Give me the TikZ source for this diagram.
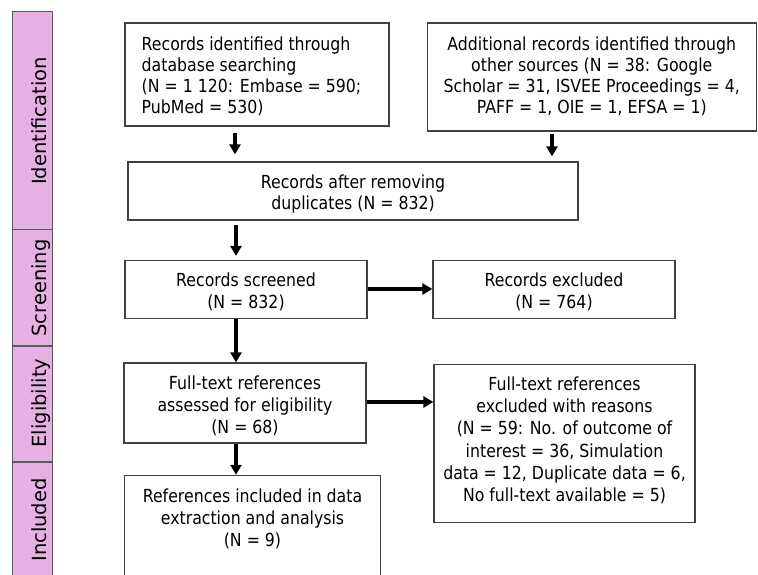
\documentclass[tikz,border=0pt]{standalone}
\usepackage{fontspec}
\setmainfont{DejaVu Sans}[FakeStretch=0.875]
\newfontfamily\sidefont{DejaVu Sans}
\usetikzlibrary{arrows.meta}
\definecolor{phase}{HTML}{E6B0E3}
\definecolor{edgegray}{HTML}{404040}
\definecolor{bandgray}{HTML}{5A5A5A}
% width, height, first baseline, text (centred, top aligned)
\newcommand{\cbox}[4]{\begin{minipage}[c][#2][t]{#1}\centering\rule{0pt}{#3}#4\end{minipage}}
% width, height, first baseline, left pad, text (left aligned, top aligned)
\newcommand{\lbox}[5]{\begin{minipage}[c][#2][t]{#1}\raggedright\leftskip=#4\rule{0pt}{#3}#5\end{minipage}}
\begin{document}
\begin{tikzpicture}[x=1pt,y=-1pt,
  box/.style={draw=edgegray,line width=1.2pt,rectangle,inner sep=0pt,
    font=\fontsize{18}{21.7}\selectfont},
  topbox/.style={box,font=\fontsize{18}{21.1}\selectfont},
  boxtext/.style={rectangle,inner sep=0pt,font=\fontsize{18}{21.9}\selectfont},
  boxline/.style={draw=edgegray,line width=1.2pt},
  band/.style={draw=bandgray,fill=phase,line width=1.2pt},
  bandlabel/.style={rotate=90,anchor=base,inner sep=0pt,
    font=\sidefont\fontsize{19.5}{22}\selectfont},
  arr/.style={line width=3.2pt,-{Triangle[length=10pt,width=11pt]}}]
\useasboundingbox (0,0) rectangle (758,575);

% phase side bar
\draw[band] (12.7,11.7) rectangle (52.7,229.5);
\draw[band] (12.7,229.5) rectangle (52.7,346);
\draw[band] (12.7,346) rectangle (52.7,462);
\draw[band] (12.7,462) rectangle (52.7,580);
\node[bandlabel] (lid) at (46.5,121) {Identification};
\node[bandlabel] (lsc) at (46.5,288) {Screening};
\node[bandlabel] (lel) at (46.5,403) {Eligibility};
\node[bandlabel] (lin) at (46.5,520) {Included};

% boxes
\node[topbox] (b1) at (257,74.5)
  {\lbox{264pt}{103pt}{27.6pt}{16.7pt}{Records identified through\\database searching\\(N = 1 120: Embase = 590;\\PubMed = 530)}};
\node[topbox] (b2) at (591.8,77)
  {\cbox{329pt}{108pt}{27.3pt}{Additional records identified through\\other sources (N = 38: Google\\Scholar = 31, ISVEE Proceedings = 4,\\PAFF = 1, OIE = 1, EFSA = 1)}};
\node[box] (b3) at (353,191)
  {\cbox{450pt}{58pt}{26.2pt}{Records after removing\\duplicates (N = 832)}};
\node[box] (b4) at (246,289.5)
  {\cbox{242pt}{58pt}{26.2pt}{Records screened\\(N = 832)}};
\node[box] (b5) at (554,289.5)
  {\cbox{242pt}{58pt}{26.2pt}{Records excluded\\(N = 764)}};
\node[box] (b6) at (245,403)
  {\cbox{242pt}{80pt}{26.7pt}{Full-text references\\assessed for eligibility\\(N = 68)}};
\node[box,font=\fontsize{18}{22.2}\selectfont] (b7) at (564.5,443.5)
  {\cbox{261pt}{158pt}{26pt}{Full-text references\\excluded with reasons\\(N = 59: No. of outcome of\\interest = 36, Simulation\\data = 12, Duplicate data = 6,\\No full-text available = 5)}};
\node[boxtext] (b8) at (252.5,525.5)
  {\cbox{255pt}{99pt}{26.7pt}{References included in data\\extraction and analysis\\(N = 9)}};
\draw[boxline] (b8.south west) -- (b8.north west) -- (b8.north east) -- (b8.south east);

% connectors
\draw[arr,shorten <=6pt,shorten >=7pt] (b1.south -| 235,0) -- (b3.north -| 235,0);
\draw[arr,shorten <=2pt,shorten >=5pt] (b2.south -| 552,0) -- (b3.north -| 552,0);
\draw[arr,shorten <=4pt,shorten >=4pt] (b3.south -| 236,0) -- (b4.north -| 236,0);
\draw[arr] (b4.south -| 236,0) -- (b6.north -| 236,0);
\draw[arr,shorten >=1pt] (b6.south -| 236,0) -- (b8.north -| 236,0);
\draw[arr] (b4.east |- 0,289) -- (b5.west |- 0,289);
\draw[arr] (b6.east |- 0,402) -- (b7.west |- 0,402);
\end{tikzpicture}
\end{document}
